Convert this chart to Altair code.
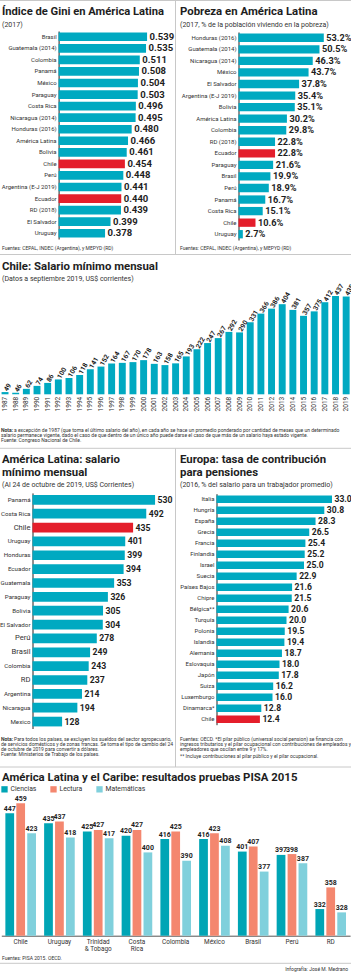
import altair as alt
import pandas as pd

FONT = "Roboto"
NUM = "Roboto"
TEAL = "#00A9C1"
RED = "#E41E2B"
INK = "#1E1E1E"
GREY = "#333333"
SEP = "#C8C8C8"
H = 973

# ---------------- data ----------------
gini_countries = ["Brasil", "Guatemala (2014)", "Colombia", "Panamá", "México", "Paraguay",
                  "Costa Rica", "Nicaragua (2014)", "Honduras (2016)", "América Latina", "Bolivia",
                  "Chile", "Perú", "Argentina (E-J 2019)", "Ecuador", "RD (2018)", "El Salvador", "Uruguay"]
gini_values = [0.539, 0.535, 0.511, 0.508, 0.504, 0.503, 0.496, 0.495, 0.480, 0.466, 0.461,
               0.454, 0.448, 0.441, 0.440, 0.439, 0.399, 0.378]
gini_highlight = ["Chile", "Ecuador"]

pov_countries = ["Honduras (2016)", "Guatemala (2014)", "Nicaragua (2014)", "México", "El Salvador",
                 "Argentina (E-J 2019)", "Bolivia", "América Latina", "Colombia", "RD (2018)", "Ecuador",
                 "Paraguay", "Brasil", "Perú", "Panamá", "Costa Rica", "Chile", "Uruguay"]
pov_values = [53.2, 50.5, 46.3, 43.7, 37.8, 35.4, 35.1, 30.2, 29.8, 22.8, 22.8, 21.6, 19.9, 18.9,
              16.7, 15.1, 10.6, 2.7]
pov_highlight = ["Ecuador", "Chile"]

wage_years = ["1987", "1988", "1989", "1990", "1991", "1992", "1993", "1994", "1995", "1996", "1997",
              "1998", "1999", "2000", "2001", "2002", "2003", "2004", "2005", "2006", "2007", "2008",
              "2009", "2010", "2011", "2012", "2013", "2014", "2015", "2016", "2017", "2018", "2019"]
wage_values = [49, 46, 62, 74, 86, 100, 106, 118, 141, 152, 164, 167, 170, 178, 163, 158, 165, 193,
               222, 247, 267, 292, 290, 331, 366, 386, 404, 381, 357, 375, 412, 437, 435]

latam_countries = ["Panamá", "Costa Rica", "Chile", "Uruguay", "Honduras", "Ecuador", "Guatemala",
                   "Paraguay", "Bolivia", "El Salvador", "Perú", "Brasil", "Colombia", "RD",
                   "Argentina", "Nicaragua", "Mexico"]
latam_wages = [530, 492, 435, 401, 399, 394, 353, 326, 305, 304, 278, 249, 243, 237, 214, 194, 128]
latam_highlight = ["Chile"]
latam_big_labels = ["Chile", "Perú", "Brasil", "RD"]

eu_countries = ["Italia", "Hungría", "España", "Grecia", "Francia", "Finlandia", "Israel", "Suecia",
                "Países Bajos", "Chipre", "Bélgica**", "Turquía", "Polonia", "Islandia", "Alemania",
                "Eslovaquia", "Japón", "Suiza", "Luxemburgo", "Dinamarca*", "Chile"]
eu_rates = [33.0, 30.8, 28.3, 26.5, 25.4, 25.2, 25.0, 22.9, 21.6, 21.5, 20.6, 20.0, 19.5, 19.4,
            18.7, 18.0, 17.8, 16.2, 16.0, 12.8, 12.4]
eu_highlight = ["Chile"]

pisa_countries = ["Chile", "Uruguay", "Trinidad & Tobago", "Costa Rica", "Colombia", "México",
                  "Brasil", "Perú", "RD"]
pisa_subjects = ["Ciencias", "Lectura", "Matemáticas"]
pisa_ciencias = [447, 435, 425, 420, 416, 416, 401, 397, 332]
pisa_lectura = [459, 437, 427, 427, 425, 423, 407, 398, 358]
pisa_matematicas = [423, 418, 417, 400, 390, 408, 377, 387, 328]
pisa_colors = ["#00A5B5", "#F4876F", "#80D0DC"]

TITLE = 11.4
SUB = 7.0
NOTE = 5.0
CAT = 6.0


# ---------------- helpers ----------------
def hbar(cats, vals, highlight, labels, x_dom, x_rng, y_rng, pad, axis_x, num_size,
         label_size=CAT):
    df = pd.DataFrame({"cat": cats, "val": vals, "lab": labels})
    df["hl"] = df["cat"].isin(highlight)
    y = alt.Y("cat:N", sort=cats,
              scale=alt.Scale(domain=cats, range=y_rng, paddingInner=pad, paddingOuter=pad / 2),
              axis=alt.Axis(orient="left", offset=-axis_x, title=None, ticks=False,
                            labelPadding=2.5, labelFont=FONT, labelFontSize=label_size,
                            labelColor=GREY, domainColor="#222", domainWidth=1, labelLimit=300))
    x = alt.X("val:Q", scale=alt.Scale(domain=x_dom, range=x_rng, zero=False, nice=False), axis=None)
    base = alt.Chart(df)
    bars = base.mark_bar().encode(
        y=y, x=x, x2=alt.datum(x_dom[0]),
        color=alt.condition("datum.hl", alt.value(RED), alt.value(TEAL)))
    text = base.mark_text(align="left", baseline="middle", dx=2.5, font=NUM, fontWeight="bold",
                          fontSize=num_size, color=INK).encode(y=y, x=x, text="lab:N")
    return alt.layer(bars, text)


def txt(s, x, y, size, weight="normal", color=GREY, align="left"):
    return alt.Chart(alt.Data(values=[{"t": s}])).mark_text(
        align=align, baseline="alphabetic", fontSize=size, fontWeight=weight, font=FONT,
        color=color).encode(x=alt.value(x), y=alt.value(y), text="t:N")


def hrule(y, x1=0, x2=351):
    return alt.Chart(alt.Data(values=[{"a": 1}])).mark_rule(color=SEP, strokeWidth=1).encode(
        x=alt.value(x1), x2=alt.value(x2), y=alt.value(y))


def vrule(x, y1, y2):
    return alt.Chart(alt.Data(values=[{"a": 1}])).mark_rule(color=SEP, strokeWidth=1).encode(
        x=alt.value(x), y=alt.value(y1), y2=alt.value(y2))


layers = []

# ---------------- Gini ----------------
layers.append(hbar(gini_countries, gini_values, gini_highlight, [f"{v:.3f}" for v in gini_values],
                   [0.2, 0.6], [58.6, 163], [31, 239], 0.25, 58.6, 9.5))
# ---------------- Pobreza ----------------
layers.append(hbar(pov_countries, pov_values, pov_highlight, [f"{v:.1f}%" for v in pov_values],
                   [0, 60], [238.5, 334.7], [32, 240], 0.28, 238.5, 9.2))

# ---------------- Chile salario ----------------
wdf = pd.DataFrame({"year": wage_years, "val": wage_values})
wx = alt.X("year:O", sort=wage_years,
           scale=alt.Scale(domain=wage_years, range=[-0.3, 351.5], paddingInner=0.35, paddingOuter=0.175),
           axis=alt.Axis(orient="bottom", offset=-(H - 394.3), title=None, ticks=False, domain=False,
                         labelAngle=270, labelPadding=2, labelFont=FONT, labelFontSize=6.5,
                         labelColor=GREY))
wy = alt.Y("val:Q", scale=alt.Scale(domain=[40, 450], range=[394.3, 292.8], zero=False, nice=False),
           axis=None)
wbars = alt.Chart(wdf).mark_bar(color=TEAL).encode(x=wx, y=wy, y2=alt.datum(40))
wlab = alt.Chart(wdf).mark_text(align="left", baseline="middle", angle=300, dx=1.5, font=NUM,
                                fontWeight="bold", fontSize=6.8, color=INK).encode(
    x=wx, y=wy, text="val:Q")
layers.append(alt.layer(wbars, wlab))

# ---------------- LatAm salario ----------------
ldf = pd.DataFrame({"cat": latam_countries, "val": latam_wages, "lab": [str(v) for v in latam_wages]})
ldf["hl"] = ldf["cat"].isin(latam_highlight)
big_test = "indexof(" + str(latam_big_labels) + ", datum.value) >= 0"
ly = alt.Y("cat:N", sort=latam_countries,
           scale=alt.Scale(domain=latam_countries, range=[492.9, 728.5], paddingInner=0.30,
                           paddingOuter=0.15),
           axis=alt.Axis(orient="left", offset=-32.5, title=None, ticks=False, labelPadding=2.5,
                         labelFont=FONT,
                         labelFontSize={"condition": {"test": big_test, "value": 7.6}, "value": 6.2},
                         labelColor=GREY, domainColor="#222", domainWidth=1))
lx = alt.X("val:Q", scale=alt.Scale(domain=[0, 560], range=[32.5, 162], zero=False, nice=False), axis=None)
lbars = alt.Chart(ldf).mark_bar().encode(
    y=ly, x=lx, x2=alt.datum(0), color=alt.condition("datum.hl", alt.value(RED), alt.value(TEAL)))
llab = alt.Chart(ldf).mark_text(align="left", baseline="middle", dx=2.5, font=NUM, fontWeight="bold",
                                fontSize=8.7, color=INK).encode(y=ly, x=lx, text="lab:N")
layers.append(alt.layer(lbars, llab))

# ---------------- Europa ----------------
layers.append(hbar(eu_countries, eu_rates, eu_highlight, [f"{v:.1f}" for v in eu_rates],
                   [0, 35], [216.5, 339], [493.7, 724.7], 0.33, 216.5, 8.6))

# ---------------- PISA ----------------
prow = []
for i, c in enumerate(pisa_countries):
    for s, arr in zip(pisa_subjects, [pisa_ciencias, pisa_lectura, pisa_matematicas]):
        prow.append({"country": c, "subject": s, "score": arr[i]})
pdf = pd.DataFrame(prow)
lab_expr = ("datum.label == 'Trinidad & Tobago' ? ['Trinidad', '& Tobago'] : "
            "datum.label == 'Costa Rica' ? ['Costa', 'Rica'] : datum.label")
px = alt.X("country:N", sort=pisa_countries,
           scale=alt.Scale(domain=pisa_countries, range=[1.3, 350.1], paddingInner=0.21,
                           paddingOuter=0.105),
           axis=alt.Axis(orient="bottom", offset=-(H - 935.7), title=None, ticks=False,
                         domainColor="#555", domainWidth=1, labelPadding=3, labelFont=FONT,
                         labelFontSize=6.4, labelColor=GREY, labelAngle=0, labelExpr=lab_expr,
                         labelLineHeight=7))
pxo = alt.XOffset("subject:N", sort=pisa_subjects,
                  scale=alt.Scale(domain=pisa_subjects, paddingInner=0.2, paddingOuter=0))
py = alt.Y("score:Q", scale=alt.Scale(domain=[300, 470], range=[935.7, 794.1], zero=False, nice=False),
           axis=None)
pcol = alt.Color("subject:N", sort=pisa_subjects,
                 scale=alt.Scale(domain=pisa_subjects, range=pisa_colors),
                 legend=alt.Legend(orient="none", legendX=1, legendY=785.5, direction="horizontal",
                                   title=None, symbolType="square", symbolSize=40,
                                   symbolStrokeWidth=0, labelFont=FONT, labelFontSize=6.8,
                                   labelColor=GREY, columnPadding=13, labelOffset=2.5, padding=0))
pbars = alt.Chart(pdf).mark_bar().encode(x=px, xOffset=pxo, y=py, y2=alt.datum(300), color=pcol)
plab = alt.Chart(pdf).mark_text(baseline="bottom", dy=-1.5, font=NUM, fontWeight="bold",
                                fontSize=7.0, color=INK).encode(x=px, xOffset=pxo, y=py,
                                                                text="score:Q")
layers.append(alt.layer(pbars, plab))

# ---------------- separators ----------------
layers += [hrule(0.5), hrule(254.5), hrule(448.3), hrule(767), hrule(963.3),
           vrule(175.5, 0, 254.5), vrule(175.5, 448.3, 767)]

# ---------------- texts ----------------
layers += [
    txt("Índice de Gini en América Latina", 2, 15, 11.2, "bold", color=INK),
    txt("(2017)", 2, 27, SUB),
    txt("Fuentes: CEPAL, INDEC (Argentina), y MEPYD (RD)", 2, 249.5, NOTE),
    txt("Pobreza en América Latina", 180, 15, TITLE, "bold", color=INK),
    txt("(2017, % de la población viviendo en la pobreza)", 180, 27, SUB),
    txt("Fuentes: CEPAL, INDEC (Argentina), y MEPYD (RD)", 180, 249.5, NOTE),
    txt("Chile: Salario mínimo mensual", 2, 270, TITLE, "bold", color=INK),
    txt("(Datos a septiembre 2019, US$ corrientes)", 2, 281, SUB),
    txt("Nota:", 1, 431.6, NOTE, "bold"),
    txt("a excepción de 1987 (que toma el último salario del año), en cada año se hace un promedio "
        "ponderado por cantidad de meses que un determinado", 14, 431.6, NOTE),
    txt("salario permanece vigente, dado el caso de que dentro de un único año puede darse el caso "
        "de que más de un salario haya estado vigente.", 1, 436.9, NOTE),
    txt("Fuente: Congreso Nacional de Chile.", 1, 442.2, NOTE),
    txt("América Latina: salario", 2, 463, TITLE, "bold", color=INK),
    txt("mínimo mensual", 2, 475.5, TITLE, "bold", color=INK),
    txt("(Al 24 de octubre de 2019, US$ Corrientes)", 2, 487, SUB),
    txt("Europa: tasa de contribución", 180, 463, TITLE, "bold", color=INK),
    txt("para pensiones", 180, 475.5, TITLE, "bold", color=INK),
    txt("(2016, % del salario para un trabajador promedio)", 180, 487, SUB),
    txt("Nota:", 1, 740.5, NOTE, "bold"),
    txt("Para todos los países, se excluyen los sueldos del sector agropecuario,", 14, 740.5, NOTE),
    txt("de servicios domésticos y de zonas francas. Se toma el tipo de cambio del 24", 1, 745.5, NOTE),
    txt("de octubre de 2019 para convertir a dólares.", 1, 750.5, NOTE),
    txt("Fuente: Ministerios de Trabajo de los países.", 1, 755.5, NOTE),
    txt("Fuentes: OECD. *El pilar público (universal social pension) se financia con", 180, 740.8, NOTE),
    txt("ingresos tributarios y el pilar ocupacional con contribuciones de empleados y", 180, 746.1, NOTE),
    txt("empleadores que oscilan entre 9 y 17%.", 180, 751.4, NOTE),
    txt("** Incluye contribuciones al pilar público y el pilar ocupacional.", 180, 757.5, NOTE),
    txt("América Latina y el Caribe: resultados pruebas PISA 2015", 2, 781, TITLE, "bold", color=INK),
    txt("Fuentes: PISA 2015. OECD.", 2, 960, NOTE),
    txt("Infografía: José M. Medrano", 348, 970.5, NOTE, align="right"),
]

chart = alt.layer(*layers).resolve_scale(
    x="independent", y="independent"
).properties(
    width=351, height=H, padding=0, background="white",
    autosize=alt.AutoSizeParams(type="none"),
).configure_view(stroke=None)

chart.save("out.html", embed_options={"renderer": "svg", "actions": False})
